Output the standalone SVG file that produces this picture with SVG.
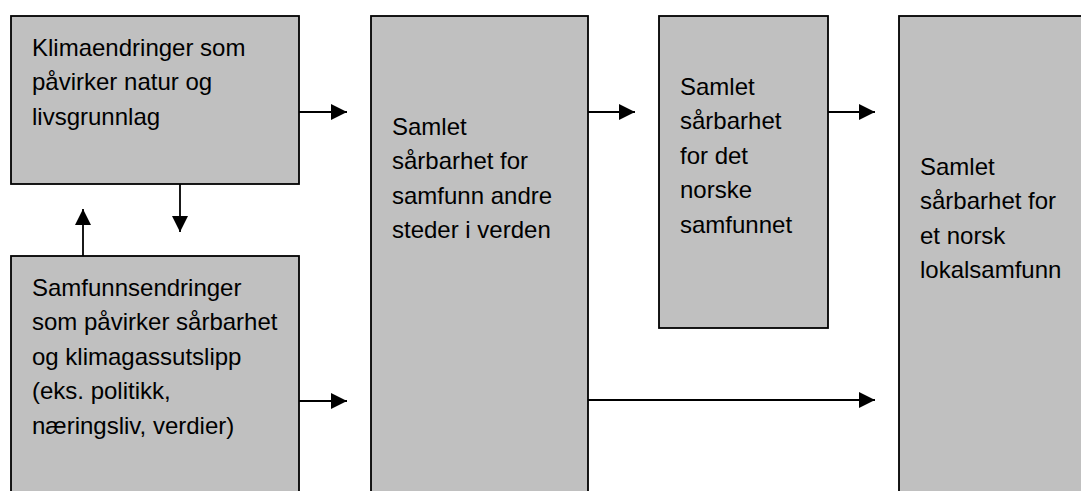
<svg xmlns="http://www.w3.org/2000/svg" width="1081" height="491" viewBox="0 0 1081 491">
<style>
.box{fill:#c0c0c0;stroke:#000;stroke-width:1.8}
.t{font-family:"Liberation Sans",Arial,sans-serif;font-size:24px;fill:#000}
.c{stroke:#000;stroke-width:1.8;fill:none;marker-end:url(#ah)}
</style>
<defs>
<marker id="ah" markerUnits="userSpaceOnUse" markerWidth="17" markerHeight="17" viewBox="0 0 17 17" refX="16" refY="8.5" orient="auto">
<path d="M0,0.5 L16,8.5 L0,16.5 Z" fill="#000"/>
</marker>
</defs>
<rect width="1081" height="491" fill="#fff"/>
<g id="n1">
<rect class="box" x="11" y="16" width="288" height="168"/>
<text class="t" x="32" y="55.7">Klimaendringer som</text>
<text class="t" x="32" y="90.2">påvirker natur og</text>
<text class="t" x="32" y="124.7">livsgrunnlag</text>
</g>
<g id="n2">
<rect class="box" x="11" y="256" width="288" height="260"/>
<text class="t" x="32" y="295.7">Samfunnsendringer</text>
<text class="t" x="32" y="330.2">som påvirker sårbarhet</text>
<text class="t" x="32" y="364.7">og klimagassutslipp</text>
<text class="t" x="32" y="399.2">(eks. politikk,</text>
<text class="t" x="32" y="433.7">næringsliv, verdier)</text>
</g>
<g id="n3">
<rect class="box" x="371" y="16" width="217" height="500"/>
<text class="t" x="392" y="135">Samlet</text>
<text class="t" x="392" y="169.4">sårbarhet for</text>
<text class="t" x="392" y="203.8">samfunn andre</text>
<text class="t" x="392" y="238.2">steder i verden</text>
</g>
<g id="n4">
<rect class="box" x="659" y="16" width="169" height="312"/>
<text class="t" x="680" y="95">Samlet</text>
<text class="t" x="680" y="129.4">sårbarhet</text>
<text class="t" x="680" y="163.8">for det</text>
<text class="t" x="680" y="198.2">norske</text>
<text class="t" x="680" y="232.6">samfunnet</text>
</g>
<g id="n5">
<rect class="box" x="899" y="16" width="200" height="500"/>
<text class="t" x="920" y="175">Samlet</text>
<text class="t" x="920" y="209.4">sårbarhet for</text>
<text class="t" x="920" y="243.8">et norsk</text>
<text class="t" x="920" y="278.2">lokalsamfunn</text>
</g>
<g id="connectors">
<line class="c" x1="299" y1="112" x2="347" y2="112"/>
<line class="c" x1="180" y1="184" x2="180" y2="232"/>
<line class="c" x1="83" y1="256" x2="83" y2="209"/>
<line class="c" x1="299" y1="401" x2="347" y2="401"/>
<line class="c" x1="588" y1="112" x2="635" y2="112"/>
<line class="c" x1="828" y1="112" x2="875" y2="112"/>
<line class="c" x1="588" y1="400" x2="875" y2="400"/>
</g>
</svg>
